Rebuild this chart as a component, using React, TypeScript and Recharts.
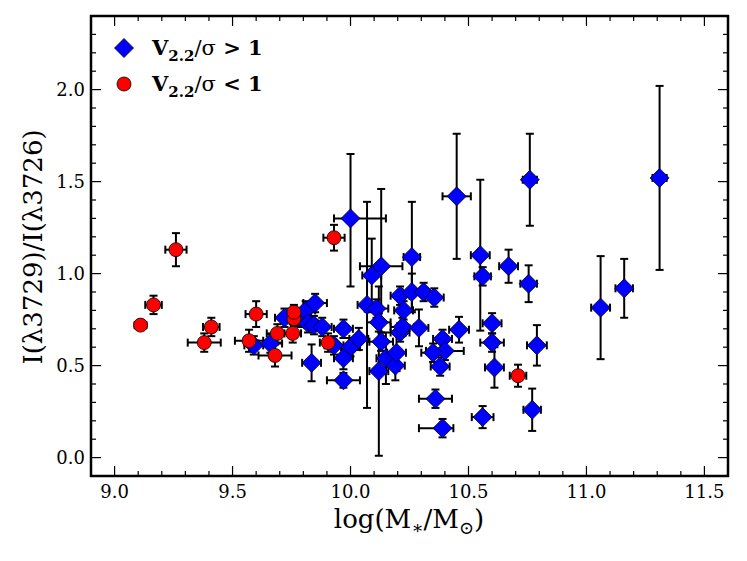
import { ScatterChart, Scatter, XAxis, YAxis, ErrorBar, ReferenceArea } from 'recharts';

// plot box in the 747x561 frame
const PLOT = { left: 91, top: 16, right: 728, bottom: 476 };
const FONT = '"DejaVu Serif", serif';

// V2.2/sigma > 1 (blue diamonds)
const blueMass = [
  9.59, 9.66, 9.72, 9.79, 9.81, 9.85, 9.82, 9.845, 9.88, 9.835, 9.93, 9.97, 10.0, 10.035, 9.97, 9.97,
  10.0, 10.07, 10.09, 10.13, 10.11, 10.12, 10.13, 10.12, 10.15, 10.19, 10.195, 10.21, 10.22, 10.225,
  10.21, 10.26, 10.31, 10.355, 10.26, 10.29, 10.39, 10.4, 10.35, 10.38, 10.36, 10.39, 10.46, 10.45,
  10.55, 10.56, 10.6, 10.6, 10.61, 10.56, 10.67, 10.76, 10.755, 10.79, 10.77, 11.06, 11.16, 11.31,
];
const blueRatio = [
  0.61, 0.62, 0.76, 0.76, 0.8, 0.84, 0.73, 0.72, 0.71, 0.515, 0.61, 0.7, 0.6, 0.645, 0.54, 0.42,
  1.3, 0.83, 0.99, 1.04, 0.81, 0.735, 0.63, 0.47, 0.54, 0.5, 0.57, 0.68, 0.71, 0.8,
  0.88, 0.9, 0.9, 0.87, 1.09, 0.705, 0.645, 0.58, 0.57, 0.495, 0.32, 0.16, 0.695, 1.42,
  1.1, 0.985, 0.73, 0.625, 0.49, 0.22, 1.04, 1.51, 0.945, 0.61, 0.26, 0.815, 0.92, 1.52,
];
const blueMassErr: (number | number[])[] = [
  0.04, 0.05, 0.04, 0.04, 0.04, 0.05, 0.04, 0.04, 0.04, 0.04, 0.04, 0.04, 0.04, 0.04, 0.04, 0.07,
  [0.07, 0.15], 0.04, 0.04, 0.09, 0.05, 0.05, 0.05, 0.04, 0.04, 0.04, 0.04, 0.04, 0.05, 0.04,
  0.04, 0.04, 0.04, 0.04, 0.035, 0.04, 0.04, 0.08, 0.05, 0.04, 0.07, [0.1, 0.046], 0.042, 0.06,
  0.04, 0.035, 0.04, 0.05, 0.04, 0.046, 0.04, 0.03, 0.035, 0.042, 0.037, 0.04, 0.037, 0.03,
];
const blueRatioErr: (number | number[])[] = [
  0.05, 0.05, 0.05, 0.05, 0.05, 0.05, 0.05, 0.05, 0.05, 0.1, 0.05, 0.05, 0.05, 0.06, 0.06, 0.04,
  [0.37, 0.35], 0.56, 0.2, 0.42, 0.05, 0.05, 0.05, 0.46, 0.14, 0.08, 0.1, 0.05, 0.05, 0.05,
  0.05, 0.1, 0.05, 0.05, 0.3, 0.1, 0.05, 0.05, 0.05, 0.05, 0.05, 0.05, 0.07, 0.34,
  0.41, 0.05, 0.055, 0.05, 0.11, 0.06, 0.09, 0.25, 0.1, 0.11, 0.115, 0.28, 0.16, 0.5,
];

// V2.2/sigma < 1 (red circles)
const redMass = [9.11, 9.165, 9.26, 9.38, 9.41, 9.57, 9.6, 9.68, 9.69, 9.755, 9.76, 9.76, 9.905, 9.93, 10.71];
const redRatio = [0.72, 0.83, 1.13, 0.625, 0.71, 0.635, 0.78, 0.555, 0.675, 0.675, 0.755, 0.79, 0.625, 1.195, 0.445];
const redMassErr = [0.025, 0.035, 0.045, 0.07, 0.035, 0.06, 0.045, 0.07, 0.045, 0.035, 0.035, 0.035, 0.035, 0.045, 0.035];
const redRatioErr = [0.02, 0.05, 0.09, 0.05, 0.05, 0.06, 0.07, 0.06, 0.05, 0.05, 0.04, 0.04, 0.05, 0.07, 0.06];

const X_TICKS = Array.from({ length: 26 }, (_, i) => Math.round(90 + i) / 10);
const Y_TICKS = Array.from({ length: 24 }, (_, i) => i / 10);

const blueData = blueMass.map((x, i) => ({ x, y: blueRatio[i], ex: blueMassErr[i], ey: blueRatioErr[i] }));
const redData = redMass.map((x, i) => ({ x, y: redRatio[i], ex: redMassErr[i], ey: redRatioErr[i] }));

const isMajor = (v: number) => Math.abs(v * 2 - Math.round(v * 2)) < 1e-6;

function XTick(props: any) {
  const { x, payload } = props;
  const v = payload.value as number;
  const major = isMajor(v);
  const len = major ? 10 : 5;
  return (
    <g>
      <line x1={x} x2={x} y1={PLOT.bottom} y2={PLOT.bottom - len} stroke="#000" strokeWidth={1.2} />
      <line x1={x} x2={x} y1={PLOT.top} y2={PLOT.top + len} stroke="#000" strokeWidth={1.2} />
      {major && (
        <text x={x} y={PLOT.bottom + 22} textAnchor="middle" fontFamily={FONT} fontSize={18} fill="#000">
          {v.toFixed(1)}
        </text>
      )}
    </g>
  );
}

function YTick(props: any) {
  const { y, payload } = props;
  const v = payload.value as number;
  const major = isMajor(v);
  const len = major ? 10 : 5;
  return (
    <g>
      <line x1={PLOT.left} x2={PLOT.left + len} y1={y} y2={y} stroke="#000" strokeWidth={1.2} />
      <line x1={PLOT.right} x2={PLOT.right - len} y1={y} y2={y} stroke="#000" strokeWidth={1.2} />
      {major && (
        <text x={PLOT.left - 6} y={y + 6.5} textAnchor="end" fontFamily={FONT} fontSize={18} fill="#000">
          {v.toFixed(1)}
        </text>
      )}
    </g>
  );
}

const Diamond = (props: any) => {
  const { cx, cy } = props;
  const r = 9.5;
  return (
    <polygon
      points={`${cx},${cy - r} ${cx + r},${cy} ${cx},${cy + r} ${cx - r},${cy}`}
      fill="#0000ff"
      stroke="#000"
      strokeWidth={0.8}
    />
  );
};

const Dot = (props: any) => <circle cx={props.cx} cy={props.cy} r={7} fill="#ff0000" stroke="#000" strokeWidth={0.8} />;
const Nothing = () => <g />;

function LegendLabel({ y, sign }: { y: number; sign: string }) {
  return (
    <text x={152} y={y} fontFamily={FONT} fontSize={21} fontWeight="bold" fill="#000">
      V
      <tspan dy={6} fontSize={15}>2.2</tspan>
      <tspan dy={-6} fontWeight="normal">/σ</tspan>
      <tspan> {sign} 1</tspan>
    </text>
  );
}

// ErrorBar width is the half-length of the cap
function Bars() {
  return [
    <ErrorBar key="x" dataKey="ex" direction="x" width={4} stroke="#000" strokeWidth={2} zIndex={100} isAnimationActive={false} />,
    <ErrorBar key="y" dataKey="ey" direction="y" width={4} stroke="#000" strokeWidth={2} zIndex={100} isAnimationActive={false} />,
  ];
}

export default function App() {
  return (
    <div style={{ position: 'absolute', left: 0, top: 0, width: 747, height: 561, background: '#fff' }}>
      <ScatterChart width={747} height={561} margin={{ top: PLOT.top, right: 747 - PLOT.right, bottom: 0, left: 0 }}>
        <XAxis
          type="number"
          dataKey="x"
          domain={[8.9, 11.6]}
          ticks={X_TICKS}
          interval={0}
          height={561 - PLOT.bottom}
          axisLine={false}
          tickLine={false}
          tick={(p: any) => <XTick {...p} />}
          allowDataOverflow
        />
        <YAxis
          type="number"
          dataKey="y"
          domain={[-0.1, 2.4]}
          ticks={Y_TICKS}
          interval={0}
          width={PLOT.left}
          axisLine={false}
          tickLine={false}
          tick={(p: any) => <YTick {...p} />}
          allowDataOverflow
        />
        <ReferenceArea x1={8.9} x2={11.6} y1={-0.1} y2={2.4} fill="none" fillOpacity={0} stroke="#000" strokeWidth={2.5} />

        {/* error bars first, markers drawn over them */}
        <Scatter data={blueData} shape={Nothing} isAnimationActive={false}>
          {Bars()}
        </Scatter>
        <Scatter data={blueData} shape={Diamond} isAnimationActive={false} />
        <Scatter data={redData} shape={Nothing} isAnimationActive={false}>
          {Bars()}
        </Scatter>
        <Scatter data={redData} shape={Dot} isAnimationActive={false} />

        {/* legend */}
        <g>
          <polygon points="124,38.5 133.5,48 124,57.5 114.5,48" fill="#0000ff" stroke="#000" strokeWidth={0.8} />
          <LegendLabel y={55} sign=">" />
          <circle cx={124} cy={84} r={7} fill="#ff0000" stroke="#000" strokeWidth={0.8} />
          <LegendLabel y={91} sign="<" />
        </g>

        {/* axis titles */}
        <text x={409} y={528} textAnchor="middle" fontFamily={FONT} fontSize={26} fill="#000">
          log(M<tspan dy={6} fontSize={18}>∗</tspan>
          <tspan dy={-6}>/M</tspan>
          <tspan dy={6} fontSize={18}>⊙</tspan>
          <tspan dy={-6}>)</tspan>
        </text>
        <text
          x={42}
          y={247}
          transform="rotate(-90, 42, 247)"
          textAnchor="middle"
          fontFamily={FONT}
          fontSize={26}
          fill="#000"
        >
          I(λ3729)/I(λ3726)
        </text>
      </ScatterChart>
    </div>
  );
}
